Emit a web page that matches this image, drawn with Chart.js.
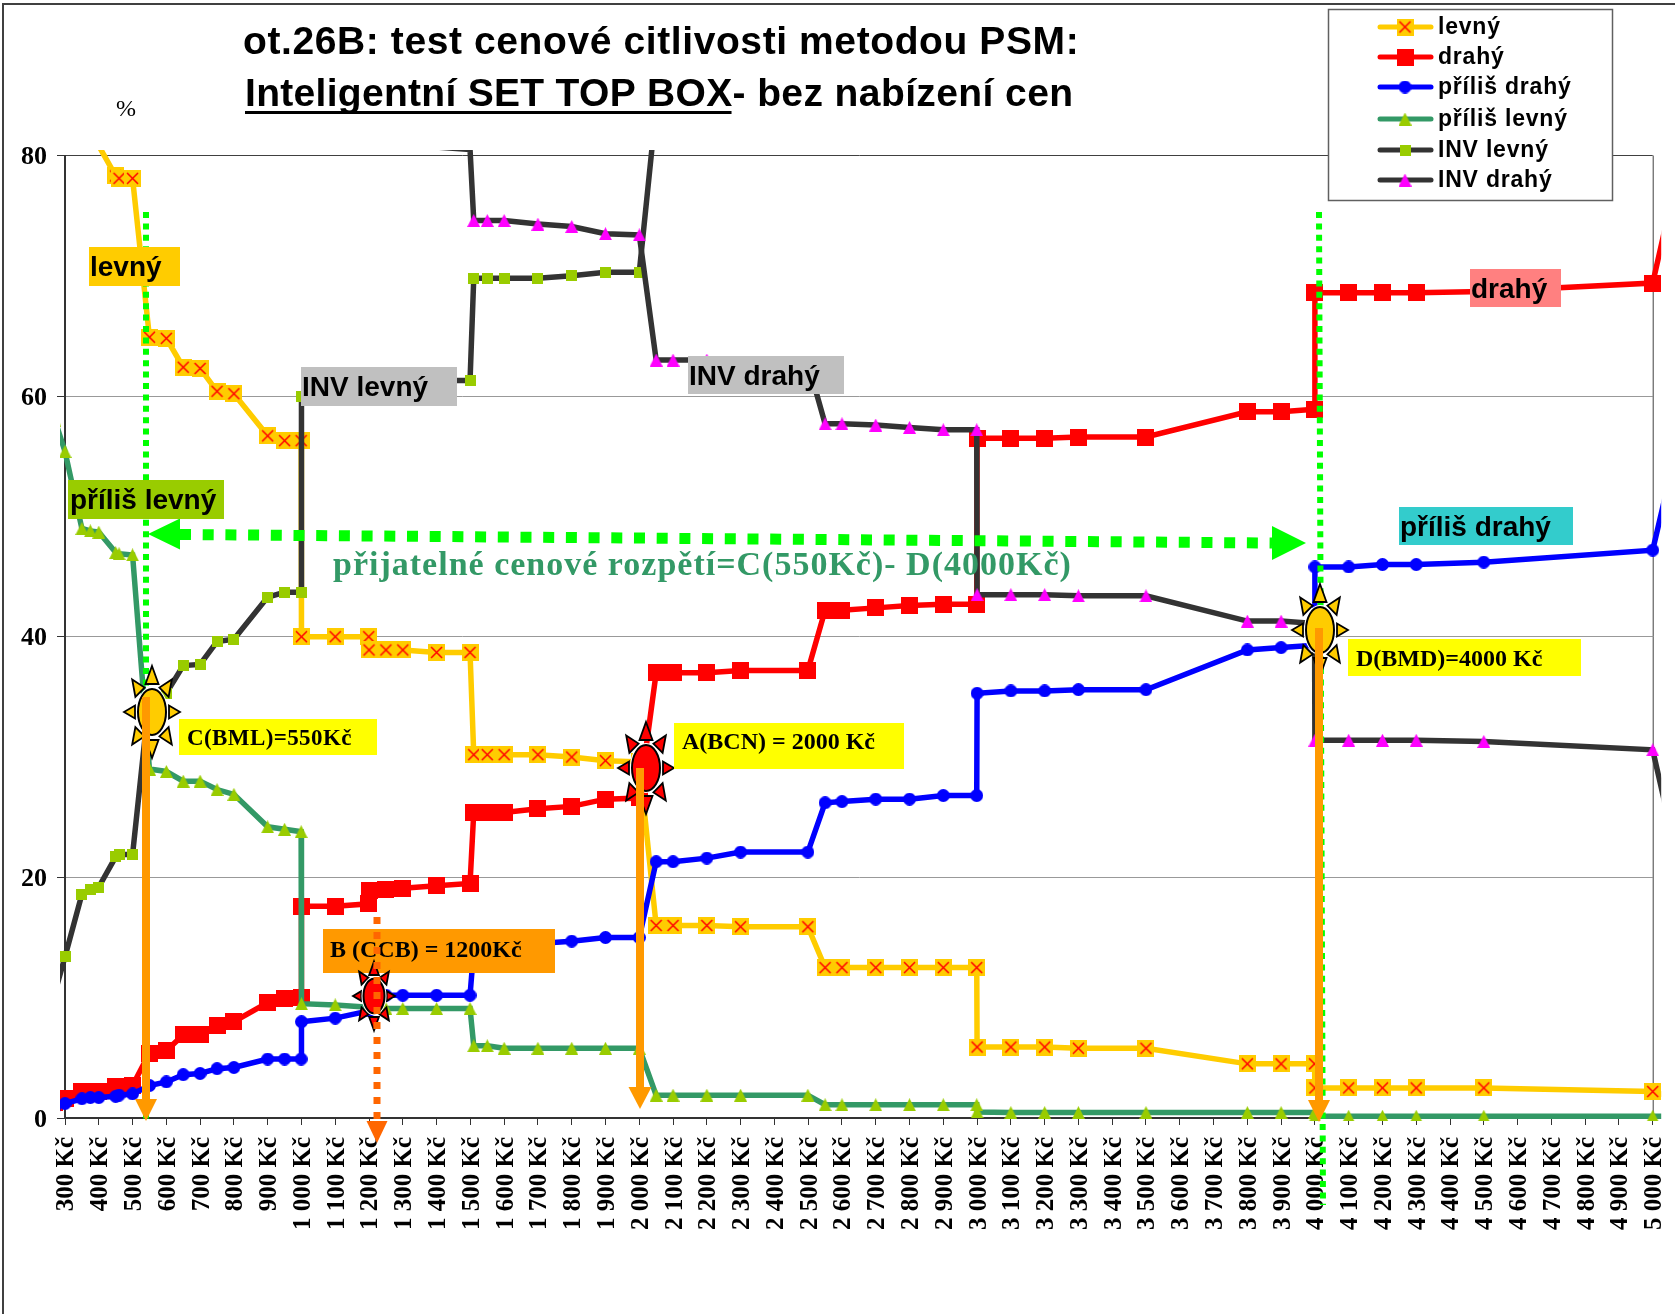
<!DOCTYPE html>
<html>
<head>
<meta charset="utf-8">
<title>PSM</title>
<script src="https://cdn.jsdelivr.net/npm/chart.js@4/dist/chart.umd.min.js"></script>
<style>
  html, body { margin: 0; padding: 0; background: #fff; }
  #wrap { position: relative; width: 1675px; height: 1314px; overflow: hidden; }
</style>
</head>
<body>
<div id="wrap"><canvas id="psmChart" width="1675" height="1314"></canvas></div>
<script>
// Prices (Kč) shared by all series; the first and last one lie just outside the axis
const prices = [270, 300, 350, 375, 400, 450, 460, 500, 550, 600, 650, 700, 750, 800, 900, 950, 999, 1000, 1100, 1199, 1200, 1250, 1300, 1400, 1499, 1510, 1550, 1600, 1700, 1800, 1900, 2000, 2050, 2100, 2200, 2300, 2499, 2550, 2600, 2700, 2800, 2900, 2999, 3000, 3100, 3200, 3300, 3500, 3800, 3900, 3999, 4000, 4100, 4200, 4300, 4500, 5000, 5050];

const levny = [89.6, 86.6, 81.4, 81, 80.8, 78.3, 78.1, 78.1, 64.9, 64.8, 62.4, 62.3, 60.4, 60.2, 56.7, 56.3, 56.3, 40, 40, 40, 38.9, 38.9, 38.9, 38.7, 38.7, 30.2, 30.2, 30.2, 30.2, 30, 29.7, 29.6, 16, 16, 16, 15.9, 15.9, 12.5, 12.5, 12.5, 12.5, 12.5, 12.5, 5.9, 5.9, 5.9, 5.8, 5.8, 4.5, 4.5, 4.5, 2.5, 2.5, 2.5, 2.5, 2.5, 2.2, 1.8];
const drahy = [1.3, 1.6, 2.2, 2.2, 2.2, 2.6, 2.6, 2.7, 5.4, 5.6, 6.9, 6.9, 7.7, 8, 9.6, 9.9, 10, 17.6, 17.6, 17.8, 18.9, 19, 19.1, 19.3, 19.5, 25.4, 25.4, 25.4, 25.7, 25.9, 26.5, 26.6, 37, 37, 37, 37.2, 37.2, 42.2, 42.2, 42.4, 42.6, 42.7, 42.7, 56.5, 56.5, 56.5, 56.6, 56.6, 58.7, 58.7, 58.9, 68.6, 68.6, 68.6, 68.6, 68.7, 69.4, 75.6];
const prilisDrahy = [0.9, 1.2, 1.6, 1.7, 1.7, 1.8, 1.9, 2, 2.7, 3, 3.6, 3.7, 4.1, 4.2, 4.9, 4.9, 4.9, 8, 8.3, 8.9, 9, 10.2, 10.2, 10.2, 10.2, 14, 14.2, 14.4, 14.5, 14.7, 15, 15, 21.3, 21.3, 21.6, 22.1, 22.1, 26.2, 26.3, 26.5, 26.5, 26.8, 26.8, 35.3, 35.5, 35.5, 35.6, 35.6, 38.9, 39.1, 39.3, 45.8, 45.8, 46, 46, 46.2, 47.2, 53.2];
const prilisLevny = [58, 55.4, 49, 48.8, 48.7, 47, 46.9, 46.8, 29, 28.8, 28, 28, 27.3, 26.9, 24.2, 24, 23.8, 9.5, 9.4, 9.2, 9.2, 9.1, 9.1, 9.1, 9.1, 6, 6, 5.8, 5.8, 5.8, 5.8, 5.8, 1.9, 1.9, 1.9, 1.9, 1.9, 1.1, 1.1, 1.1, 1.1, 1.1, 1.1, 0.5, 0.45, 0.45, 0.45, 0.45, 0.45, 0.45, 0.45, 0.15, 0.15, 0.15, 0.15, 0.15, 0.15, 0.15];
const invLevny = [10.4, 13.4, 18.6, 19, 19.2, 21.7, 21.9, 21.9, 35.1, 35.3, 37.6, 37.7, 39.6, 39.8, 43.3, 43.7, 43.7, 60, 60, 60, 61.1, 61.1, 61.1, 61.3, 61.3, 69.8, 69.8, 69.8, 69.8, 70, 70.3, 70.3, 84, 84, 84, 84.1, 84.1, 87.5, 87.5, 87.5, 87.5, 87.5, 87.5, 94.1, 94.1, 94.1, 94.2, 94.2, 95.5, 95.5, 95.5, 97.5, 97.5, 97.5, 97.5, 97.5, 97.8, 98.2];
const invDrahy = [98.7, 98.3, 97.8, 97.8, 97.8, 97.4, 97.4, 97.3, 94.6, 94.4, 93.1, 93.1, 92.4, 92, 90.4, 90.1, 90, 82.4, 82.4, 82.2, 81.1, 81, 80.9, 80.7, 80.5, 74.6, 74.6, 74.6, 74.3, 74.1, 73.5, 73.4, 63, 63, 63, 62.8, 62.8, 57.7, 57.7, 57.6, 57.4, 57.2, 57.2, 43.5, 43.5, 43.5, 43.4, 43.4, 41.3, 41.3, 41.1, 31.4, 31.4, 31.4, 31.4, 31.3, 30.6, 24.4];

const seriesNames = ['levný', 'drahý', 'příliš drahý', 'příliš levný', 'INV levný', 'INV drahý'];
const yTicks = [0, 20, 40, 60, 80];
const tickLabels = ['300 Kč', '400 Kč', '500 Kč', '600 Kč', '700 Kč', '800 Kč', '900 Kč', '1 000 Kč', '1 100 Kč', '1 200 Kč', '1 300 Kč', '1 400 Kč', '1 500 Kč', '1 600 Kč', '1 700 Kč', '1 800 Kč', '1 900 Kč', '2 000 Kč', '2 100 Kč', '2 200 Kč', '2 300 Kč', '2 400 Kč', '2 500 Kč', '2 600 Kč', '2 700 Kč', '2 800 Kč', '2 900 Kč', '3 000 Kč', '3 100 Kč', '3 200 Kč', '3 300 Kč', '3 400 Kč', '3 500 Kč', '3 600 Kč', '3 700 Kč', '3 800 Kč', '3 900 Kč', '4 000 Kč', '4 100 Kč', '4 200 Kč', '4 300 Kč', '4 400 Kč', '4 500 Kč', '4 600 Kč', '4 700 Kč', '4 800 Kč', '4 900 Kč', '5 000 Kč'];

const SANS = '"Liberation Sans"';
const SERIF = '"Liberation Serif"';
const PLOT = { left: 65, right: 1652.7, top: 155.5, bottom: 1118 };

// Point markers are small canvases so they match the Excel look
function makeMarker(size, draw) {
    const c = document.createElement('canvas');
    c.width = size;
    c.height = size;
    draw(c.getContext('2d'), size);
    return c;
}

const markerLevny = makeMarker(17, (g, s) => {
    g.fillStyle = '#FFCC00';
    g.fillRect(0, 0, s, s);
    g.strokeStyle = '#FF0000';
    g.lineWidth = 1.5;
    g.beginPath();
    g.moveTo(3, 3); g.lineTo(s - 3, s - 3);
    g.moveTo(s - 3, 3); g.lineTo(3, s - 3);
    g.stroke();
});
const markerDrahy = makeMarker(17, (g, s) => {
    g.fillStyle = '#FF0000';
    g.fillRect(0, 0, s, s);
});
const markerPrilisDrahy = makeMarker(13, (g, s) => {
    g.fillStyle = '#0000FF';
    g.beginPath();
    g.arc(s / 2, s / 2, s / 2, 0, Math.PI * 2);
    g.fill();
});
function triangleMarker(color) {
    return makeMarker(13, (g, s) => {
        g.fillStyle = color;
        g.beginPath();
        g.moveTo(s / 2, 0); g.lineTo(s, s); g.lineTo(0, s);
        g.closePath();
        g.fill();
    });
}
const markerPrilisLevny = triangleMarker('#99CC00');
const markerInvDrahy = triangleMarker('#FF00FF');
const markerInvLevny = makeMarker(11, (g, s) => {
    g.fillStyle = '#99CC00';
    g.fillRect(0, 0, s, s);
});

const seriesColors = ['#FFCC00', '#FF0000', '#0000FF', '#339966', '#333333', '#333333'];
const seriesMarkers = [markerLevny, markerDrahy, markerPrilisDrahy, markerPrilisLevny, markerInvLevny, markerInvDrahy];
const seriesValues = [levny, drahy, prilisDrahy, prilisLevny, invLevny, invDrahy];

function textAt(ctx, text, x, y, font, color, spacing) {
    ctx.font = font;
    ctx.fillStyle = color;
    ctx.letterSpacing = (spacing || 0) + 'px';
    ctx.textAlign = 'left';
    ctx.textBaseline = 'middle';
    ctx.fillText(text, x, y);
    const w = ctx.measureText(text).width;
    ctx.letterSpacing = '0px';
    return w;
}

function labelBox(ctx, box, fill, text, textX, font, spacing, dy) {
    ctx.fillStyle = fill;
    ctx.fillRect(box[0], box[1], box[2] - box[0], box[3] - box[1]);
    textAt(ctx, text, textX, (box[1] + box[3]) / 2 + 2 + (dy || 0), font, '#000', spacing);
}

function sun(ctx, cx, cy, k, fill) {
    const rx = 14 * k, ry = 23 * k;
    ctx.save();
    ctx.fillStyle = fill;
    ctx.strokeStyle = '#000';
    ctx.lineWidth = 1.8;
    for (let i = 0; i < 8; i++) {
        const a = i * Math.PI / 4;
        const ca = Math.cos(a), sa = Math.sin(a);
        const tipX = cx + ca * 28 * k, tipY = cy + sa * 46 * k;
        const baseX = cx + ca * 17 * k, baseY = cy + sa * 28 * k;
        const hw = 6.5 * k;
        ctx.beginPath();
        ctx.moveTo(tipX, tipY);
        ctx.lineTo(baseX - sa * hw, baseY + ca * hw);
        ctx.lineTo(baseX + sa * hw, baseY - ca * hw);
        ctx.closePath();
        ctx.fill();
        ctx.stroke();
    }
    ctx.beginPath();
    ctx.ellipse(cx, cy, rx, ry, 0, 0, Math.PI * 2);
    ctx.strokeStyle = '#fff';
    ctx.lineWidth = 4;
    ctx.stroke();
    ctx.fillStyle = fill;
    ctx.fill();
    ctx.strokeStyle = '#000';
    ctx.lineWidth = 2;
    ctx.stroke();
    ctx.restore();
}

function downArrow(ctx, x, y1, tip, headW, headL, width, color, dash) {
    ctx.save();
    ctx.strokeStyle = color;
    ctx.fillStyle = color;
    ctx.lineWidth = width;
    ctx.setLineDash(dash || []);
    ctx.beginPath();
    ctx.moveTo(x, y1);
    ctx.lineTo(x, tip - headL);
    ctx.stroke();
    ctx.beginPath();
    ctx.moveTo(x - headW / 2, tip - headL);
    ctx.lineTo(x + headW / 2, tip - headL);
    ctx.lineTo(x, tip);
    ctx.closePath();
    ctx.fill();
    ctx.restore();
}

function dotted(ctx, x1, y1, x2, y2, width, dash, color) {
    ctx.save();
    ctx.strokeStyle = color;
    ctx.lineWidth = width;
    ctx.setLineDash(dash);
    ctx.beginPath();
    ctx.moveTo(x1, y1);
    ctx.lineTo(x2, y2);
    ctx.stroke();
    ctx.restore();
}

function triangle(ctx, pts, color) {
    ctx.fillStyle = color;
    ctx.beginPath();
    ctx.moveTo(pts[0], pts[1]);
    ctx.lineTo(pts[2], pts[3]);
    ctx.lineTo(pts[4], pts[5]);
    ctx.closePath();
    ctx.fill();
}

// Right edge of the plot, under the series
const framePlugin = {
    id: 'frame',
    beforeDatasetsDraw(chart) {
        const ctx = chart.ctx;
        ctx.save();
        ctx.strokeStyle = '#404040';
        ctx.lineWidth = 1;
        ctx.beginPath();
        ctx.moveTo(PLOT.right + 0.5, PLOT.top);
        ctx.lineTo(PLOT.right + 0.5, PLOT.bottom);
        ctx.stroke();
        ctx.restore();
    }
};

// Everything the author drew by hand over the Excel chart
const overlayPlugin = {
    id: 'overlay',
    afterDatasetsDraw(chart) {
        const ctx = chart.ctx;
        ctx.save();

        // outer frame
        ctx.fillStyle = '#404040';
        ctx.fillRect(2, 3, 1675, 2);
        ctx.fillRect(2, 3, 2, 1314);

        // title
        const titleFont = 'bold 39px ' + SANS;
        textAt(ctx, 'ot.26B: test cenové citlivosti metodou PSM:', 243, 43, titleFont, '#000', 0.6);
        const w = textAt(ctx, 'Inteligentní SET TOP BOX', 245, 95, titleFont, '#000', 0.3);
        textAt(ctx, '- bez nabízení cen', 245 + w, 95, titleFont, '#000', 0.4);
        ctx.fillRect(245, 111, w - 1, 3);
        textAt(ctx, '%', 116, 110, '24px ' + SERIF, '#000');

        // green guides
        const green = '#00FF00';
        dotted(ctx, 146, 212, 146, 1120, 6, [6, 5.4], green);
        dotted(ctx, 1319, 212, 1323, 1205, 6, [6, 5.4], green);
        dotted(ctx, 180, 534.5, 1272, 543, 11, [11, 11.7], green);
        triangle(ctx, [148, 534, 180, 518.5, 180, 549.5], green);
        triangle(ctx, [1306, 543, 1272, 526, 1272, 560], green);
        textAt(ctx, 'přijatelné cenové rozpětí=C(550Kč)- D(4000Kč)', 333, 566, 'bold 34px ' + SERIF, '#339966', 1);

        // series labels
        const labelFont = 'bold 28px ' + SANS;
        labelBox(ctx, [89, 247, 180, 286], '#FFCC00', 'levný', 90, labelFont);
        labelBox(ctx, [301, 367, 457, 406], '#C0C0C0', 'INV levný', 302, labelFont);
        labelBox(ctx, [68, 480, 224, 519], '#99CC00', 'příliš levný', 70, labelFont);
        labelBox(ctx, [688, 356, 844, 394], '#C0C0C0', 'INV drahý', 689, labelFont);
        labelBox(ctx, [1470, 269, 1561, 307], '#FF8080', 'drahý', 1471, labelFont);
        labelBox(ctx, [1399, 507, 1573, 545], '#33CCCC', 'příliš drahý', 1400, labelFont);

        // price points
        const pointFont = 'bold 23px ' + SERIF;
        const pointFontBig = 'bold 24px ' + SERIF;
        sun(ctx, 152, 712, 1, '#FFCC00');
        sun(ctx, 646, 768, 1, '#FF0000');
        sun(ctx, 1320, 630, 1, '#FFCC00');
        labelBox(ctx, [179, 719, 377, 755], '#FFFF00', 'C(BML)=550Kč', 187, pointFont, 0.4);
        labelBox(ctx, [674, 723, 904, 769], '#FFFF00', 'A(BCN) = 2000 Kč', 682, pointFontBig, 0, -5);
        labelBox(ctx, [1348, 639, 1581, 676], '#FFFF00', 'D(BMD)=4000 Kč', 1356, pointFontBig, 0, 0);
        labelBox(ctx, [323, 929, 555, 973], '#FF9900', 'B (CCB) = 1200Kč', 330, pointFontBig, 0, -2);
        sun(ctx, 374, 996, 0.75, '#FF0000');

        downArrow(ctx, 146, 697, 1121, 22, 22, 8, '#FF9900');
        downArrow(ctx, 640, 768, 1109, 23, 22, 8, '#FF9900');
        downArrow(ctx, 1319, 628, 1122, 22, 22, 8, '#FF9900');
        downArrow(ctx, 377, 917, 1143, 21, 22, 7, '#FF6600', [7, 8]);

        // legend
        ctx.fillStyle = '#fff';
        ctx.fillRect(1328, 9, 285, 192);
        ctx.strokeStyle = '#606060';
        ctx.lineWidth = 1.5;
        ctx.strokeRect(1328.5, 9.5, 284, 191);
        const rows = [27, 57, 87, 119, 150, 180];
        seriesNames.forEach((name, i) => {
            ctx.strokeStyle = seriesColors[i];
            ctx.lineWidth = 5;
            ctx.lineCap = 'round';
            ctx.beginPath();
            ctx.moveTo(1380, rows[i]);
            ctx.lineTo(1431, rows[i]);
            ctx.stroke();
            const m = seriesMarkers[i];
            ctx.drawImage(m, 1405 - m.width / 2, rows[i] - m.height / 2);
            textAt(ctx, name, 1438, rows[i] + 1, 'bold 23px ' + SANS, '#000', 0.8);
        });
        ctx.restore();
    }
};

new Chart(document.getElementById('psmChart'), {
    type: 'line',
    data: {
        datasets: seriesNames.map((name, i) => ({
            label: name,
            data: prices.map((p, j) => ({ x: p, y: seriesValues[i][j] })),
            borderColor: seriesColors[i],
            backgroundColor: seriesColors[i],
            borderWidth: 5.5,
            pointStyle: seriesMarkers[i],
            // values above the axis only show as a clipped line
            pointRadius: c => (c.raw.y > 80 ? 0 : 8),
            tension: 0,
            fill: false,
            order: 6 - i,
            clip: { left: 5, right: 8.5, top: 5.5, bottom: 3 }
        }))
    },
    plugins: [framePlugin, overlayPlugin],
    options: {
        responsive: false,
        animation: false,
        events: [],
        layout: { padding: { top: PLOT.top, right: 1675 - PLOT.right, left: 0, bottom: 0 } },
        plugins: { legend: { display: false }, tooltip: { enabled: false }, title: { display: false } },
        scales: {
            x: {
                type: 'linear',
                min: 300,
                // a hair over 5000 so the segment running past the axis end is still drawn
                max: 5000.001,
                afterFit: scale => {
                    scale.height = 1314 - PLOT.bottom;
                    scale.paddingLeft = 0;
                    scale.paddingRight = 0;
                },
                afterBuildTicks: scale => { scale.ticks = tickLabels.map((_, i) => ({ value: 300 + i * 100 })); },
                grid: { drawOnChartArea: false, tickLength: 7, tickColor: '#333', tickWidth: 1 },
                border: { color: '#333', width: 2 },
                ticks: {
                    autoSkip: false,
                    minRotation: 90,
                    maxRotation: 90,
                    padding: 12,
                    labelOffset: 2,
                    color: '#000',
                    font: { family: SERIF, weight: 'bold', size: 25 },
                    callback: (v, i) => tickLabels[i]
                }
            },
            y: {
                min: 0,
                max: 80,
                afterFit: scale => {
                    scale.width = PLOT.left;
                    scale.paddingTop = 0;
                    scale.paddingBottom = 0;
                },
                afterBuildTicks: scale => { scale.ticks = yTicks.map(v => ({ value: v })); },
                grid: {
                    color: c => (c.tick && c.tick.value === 80 ? '#404040' : '#999999'),
                    lineWidth: 1,
                    tickLength: 8,
                    tickColor: '#333'
                },
                border: { color: '#333', width: 2 },
                ticks: {
                    padding: 10,
                    labelOffset: 2,
                    color: '#000',
                    font: { family: SERIF, weight: 'bold', size: 26 }
                }
            }
        }
    }
});
</script>
</body>
</html>
